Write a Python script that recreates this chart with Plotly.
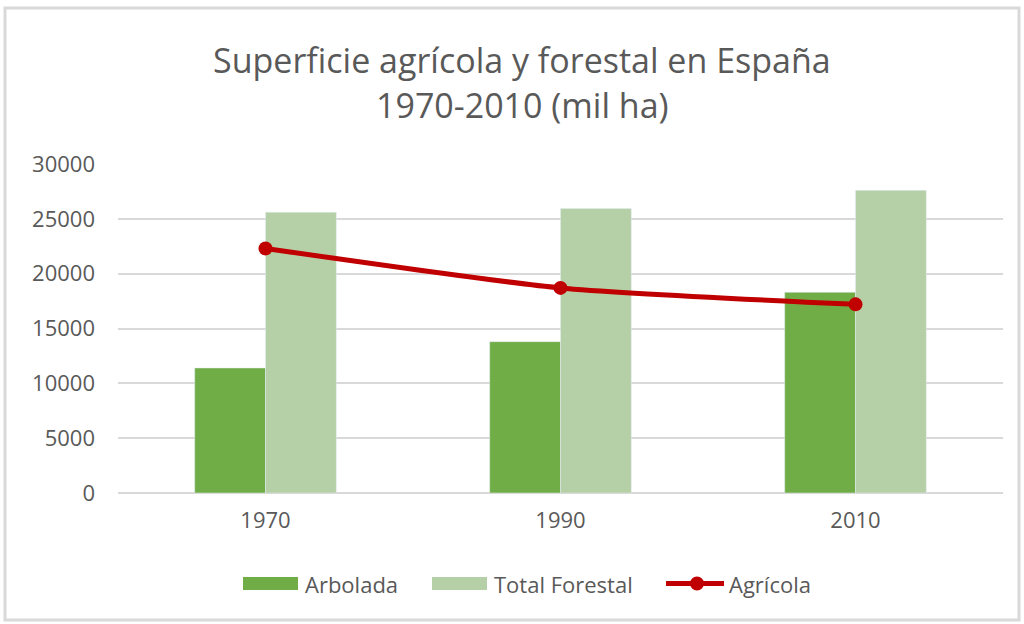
import plotly.graph_objects as go

years = ["1970", "1990", "2010"]
arbolada = [11400, 13800, 18300]
total_forestal = [25600, 25950, 27600]
agricola = [22300, 18700, 17200]
y_ticks = [0, 5000, 10000, 15000, 20000, 25000, 30000]
series_names = ["Arbolada", "Total Forestal", "Agrícola"]

W, H = 1024, 624
L, R, T, B = 118, 1003, 164, 493

def px_x(x):
    return (x - L) / (R - L)

def px_y(y):
    return (B - y) / (B - T)

txt = "#595959"
c_arb = "#70ad47"
c_tf = "#b5cfa7"
c_agr = "#c00000"
font_family = "Open Sans, Liberation Sans, sans-serif"

fig = go.Figure()
fig.add_trace(go.Bar(x=years, y=arbolada, name=series_names[0], marker_color=c_arb))
fig.add_trace(go.Bar(x=years, y=total_forestal, name=series_names[1], marker_color=c_tf))
fig.add_trace(go.Scatter(x=years, y=agricola, name=series_names[2], mode="lines+markers",
                         line=dict(color=c_agr, width=5, shape="spline", smoothing=0.6),
                         marker=dict(color=c_agr, size=14)))

shapes = [
    dict(type="rect", xref="paper", yref="paper",
         x0=px_x(5), x1=px_x(1019), y0=px_y(620), y1=px_y(8),
         line=dict(color="#d9d9d9", width=3), fillcolor="rgba(0,0,0,0)", layer="below"),
    # custom legend swatches
    dict(type="rect", xref="paper", yref="paper", x0=px_x(243), x1=px_x(298),
         y0=px_y(590), y1=px_y(577), fillcolor=c_arb, line=dict(width=0)),
    dict(type="rect", xref="paper", yref="paper", x0=px_x(432), x1=px_x(487),
         y0=px_y(590), y1=px_y(577), fillcolor=c_tf, line=dict(width=0)),
    dict(type="line", xref="paper", yref="paper", x0=px_x(666), x1=px_x(724),
         y0=px_y(583.5), y1=px_y(583.5), line=dict(color=c_agr, width=5)),
    dict(type="circle", xref="paper", yref="paper", x0=px_x(690), x1=px_x(704),
         y0=px_y(590.5), y1=px_y(576.5), fillcolor=c_agr, line=dict(width=0)),
]

annotations = [
    dict(text="Superficie agrícola y forestal en España", xref="paper", yref="paper",
         x=px_x(522), y=px_y(60), xanchor="center", yanchor="middle", showarrow=False,
         font=dict(size=34, color=txt, family=font_family)),
    dict(text="1970-2010 (mil ha)", xref="paper", yref="paper",
         x=px_x(522), y=px_y(105), xanchor="center", yanchor="middle", showarrow=False,
         font=dict(size=34, color=txt, family=font_family)),
]
for name, xpos in zip(series_names, [303, 492, 727]):
    annotations.append(dict(text=name, xref="paper", yref="paper", x=px_x(xpos), y=px_y(584),
                            xanchor="left", yanchor="middle", showarrow=False,
                            font=dict(size=22, color=txt, family=font_family)))

fig.update_layout(
    width=W, height=H,
    margin=dict(l=L, r=W - R, t=T, b=H - B),
    paper_bgcolor="white", plot_bgcolor="white",
    barmode="group", bargap=0.52, bargroupgap=0,
    font=dict(family=font_family, color=txt, size=22),
    showlegend=False,
    xaxis=dict(showgrid=False, showline=False, ticks="", tickfont=dict(size=22, color=txt),
               ticklabelstandoff=12),
    yaxis=dict(range=[0, 30000], tickvals=y_ticks, tickformat="d", showgrid=True,
               gridcolor="#d9d9d9", gridwidth=1.5, zeroline=True, zerolinecolor="#d9d9d9",
               zerolinewidth=1.5, showline=False, ticks="", tickfont=dict(size=22, color=txt),
               ticklabelstandoff=22),
    shapes=shapes,
    annotations=annotations,
)

fig.write_html("out.html", config={"displayModeBar": False},
               post_script="document.body.style.margin='0px';")
